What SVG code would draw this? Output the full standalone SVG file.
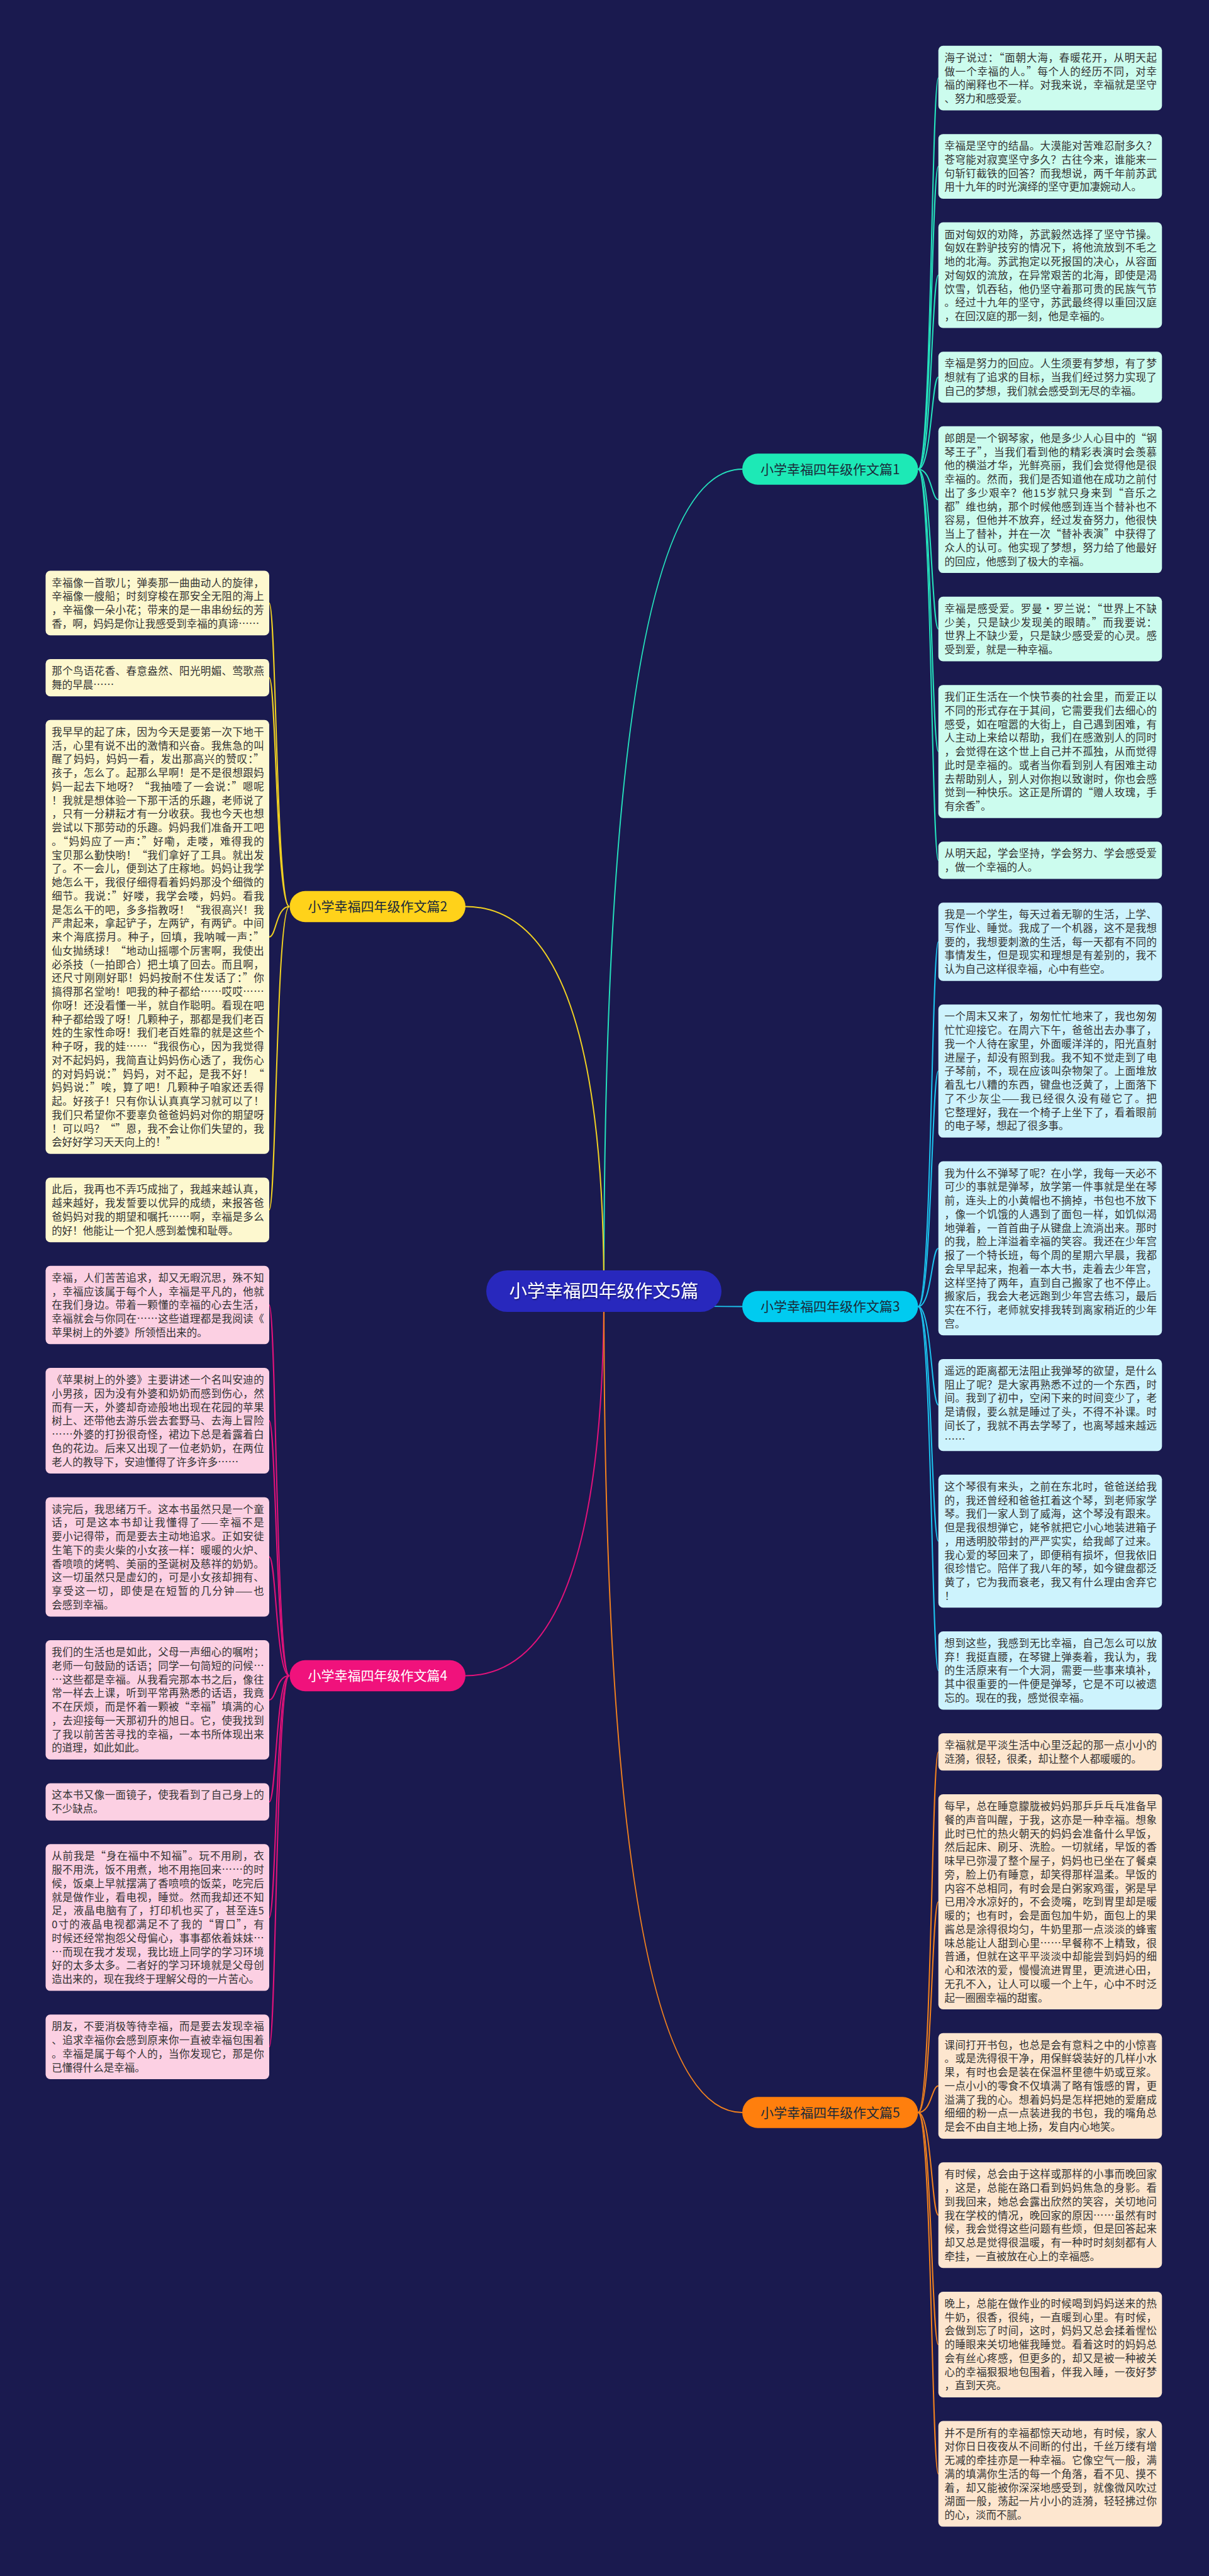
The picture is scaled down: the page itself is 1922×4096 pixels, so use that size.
<svg xmlns="http://www.w3.org/2000/svg" width="1922" height="4096" viewBox="0 0 1922 4096">
<defs>
<style>
.t{font-family:"Noto Sans CJK SC","Noto Sans",sans-serif;font-size:16.5px;fill:#333333}
.bt{font-family:"Noto Sans CJK SC","Noto Sans",sans-serif;font-size:21px;text-anchor:middle}
.m{fill:#ccfcee}.c{fill:#cdf3fd}.o{fill:#fde6cf}.y{fill:#fdf8cf}.p{fill:#fcd0e3}
.lk{fill:none;stroke-width:2}
</style>
<filter id="sh" x="-10%" y="-30%" width="120%" height="160%"><feDropShadow dx="1" dy="1.5" stdDeviation="0.8" flood-color="#000" flood-opacity="0.45"/></filter>
</defs>
<rect width="1922" height="4096" fill="#1a1a4f"/>
<g id="connectors">
<path class="lk" stroke="#25e2bd" stroke-width="2.25" d="M960 2053 Q960 746 1180 746"/>
<path class="lk" stroke="#f2d222" stroke-width="2.25" d="M960 2053 Q960 1441.5 740 1441.5"/>
<path class="lk" stroke="#1cc3ee" stroke-width="2.25" d="M960 2053 Q960 2077.5 1180 2077.5"/>
<path class="lk" stroke="#e3127a" stroke-width="2.25" d="M960 2053 Q960 2664.5 740 2664.5"/>
<path class="lk" stroke="#f2821e" stroke-width="2.25" d="M960 2053 Q960 3359 1180 3359"/>
<g stroke="#25e2bd">
<path class="lk" d="M1459.5 746 C1481 746 1481 124.1 1491.75 124.1"/>
<path class="lk" d="M1459.5 746 C1481 746 1481 264.5 1491.75 264.5"/>
<path class="lk" d="M1459.5 746 C1481 746 1481 437.6 1491.75 437.6"/>
<path class="lk" d="M1459.5 746 C1481 746 1481 599.7 1491.75 599.7"/>
<path class="lk" d="M1459.5 746 C1481 746 1481 794.5 1491.75 794.5"/>
<path class="lk" d="M1459.5 746 C1481 746 1481 1000.1 1491.75 1000.1"/>
<path class="lk" d="M1459.5 746 C1481 746 1481 1194.9 1491.75 1194.9"/>
<path class="lk" d="M1459.5 746 C1481 746 1481 1367.9 1491.75 1367.9"/>
</g>
<g stroke="#1cc3ee">
<path class="lk" d="M1459.5 2077.5 C1481 2077.5 1481 1497.5 1491.75 1497.5"/>
<path class="lk" d="M1459.5 2077.5 C1481 2077.5 1481 1703.1 1491.75 1703.1"/>
<path class="lk" d="M1459.5 2077.5 C1481 2077.5 1481 1984.9 1491.75 1984.9"/>
<path class="lk" d="M1459.5 2077.5 C1481 2077.5 1481 2234 1491.75 2234"/>
<path class="lk" d="M1459.5 2077.5 C1481 2077.5 1481 2450.6 1491.75 2450.6"/>
<path class="lk" d="M1459.5 2077.5 C1481 2077.5 1481 2656.2 1491.75 2656.2"/>
</g>
<g stroke="#f2821e">
<path class="lk" d="M1459.5 3359 C1481 3359 1481 2785.7 1491.75 2785.7"/>
<path class="lk" d="M1459.5 3359 C1481 3359 1481 3024 1491.75 3024"/>
<path class="lk" d="M1459.5 3359 C1481 3359 1481 3316.7 1491.75 3316.7"/>
<path class="lk" d="M1459.5 3359 C1481 3359 1481 3522.3 1491.75 3522.3"/>
<path class="lk" d="M1459.5 3359 C1481 3359 1481 3728 1491.75 3728"/>
<path class="lk" d="M1459.5 3359 C1481 3359 1481 3933.6 1491.75 3933.6"/>
</g>
<g stroke="#f2d222">
<path class="lk" d="M460 1441.5 C439 1441.5 439 958.9 428 958.9"/>
<path class="lk" d="M460 1441.5 C439 1441.5 439 1077.5 428 1077.5"/>
<path class="lk" d="M460 1441.5 C439 1441.5 439 1489.8 428 1489.8"/>
<path class="lk" d="M460 1441.5 C439 1441.5 439 1923.8 428 1923.8"/>
</g>
<g stroke="#e3127a">
<path class="lk" d="M460 2664.5 C439 2664.5 439 2075.1 428 2075.1"/>
<path class="lk" d="M460 2664.5 C439 2664.5 439 2259 428 2259"/>
<path class="lk" d="M460 2664.5 C439 2664.5 439 2475.5 428 2475.5"/>
<path class="lk" d="M460 2664.5 C439 2664.5 439 2702.9 428 2702.9"/>
<path class="lk" d="M460 2664.5 C439 2664.5 439 2865.1 428 2865.1"/>
<path class="lk" d="M460 2664.5 C439 2664.5 439 3049 428 3049"/>
<path class="lk" d="M460 2664.5 C439 2664.5 439 3254.6 428 3254.6"/>
</g>
</g>
<g id="center"><rect x="773" y="2020" width="374" height="66" rx="33" fill="#2828bd"/><text x="960" y="2063" text-anchor="middle" font-family="'Noto Sans CJK SC','Noto Sans',sans-serif" font-size="28.5" fill="#ffffff" filter="url(#sh)">小学幸福四年级作文5篇</text></g>
<g id="b1"><rect x="1180" y="721.25" width="279.5" height="49.5" rx="24.75" fill="#1de9b6"/><text class="bt" x="1319.75" y="753.5" fill="#1a2a3a">小学幸福四年级作文篇1</text></g>
<g id="b2"><rect x="460.5" y="1416.75" width="279.5" height="49.5" rx="24.75" fill="#ffd21a"/><text class="bt" x="600.25" y="1449" fill="#1a2a3a">小学幸福四年级作文篇2</text></g>
<g id="b3"><rect x="1180" y="2052.75" width="279.5" height="49.5" rx="24.75" fill="#00cbf0"/><text class="bt" x="1319.75" y="2085" fill="#1a2a3a">小学幸福四年级作文篇3</text></g>
<g id="b4"><rect x="460.5" y="2639.75" width="279.5" height="49.5" rx="24.75" fill="#f0127c"/><text class="bt" x="600.25" y="2672" fill="#ffffff">小学幸福四年级作文篇4</text></g>
<g id="b5"><rect x="1180" y="3334.25" width="279.5" height="49.5" rx="24.75" fill="#ff7f0d"/><text class="bt" x="1319.75" y="3366.5" fill="#1a2a3a">小学幸福四年级作文篇5</text></g>

<g id="r1" transform="translate(1491.75 72.75)"><rect class="m" width="355.5" height="102.75" rx="7.5"/>
<text class="t" x="9.75" y="25" textLength="337.5">海子说过：“面朝大海，春暖花开，从明天起</text>
<text class="t" x="9.75" y="46.75" textLength="337.5">做一个幸福的人。”每个人的经历不同，对幸</text>
<text class="t" x="9.75" y="68.5" textLength="337.5">福的阐释也不一样。对我来说，幸福就是坚守</text>
<text class="t" x="9.75" y="90.25">、努力和感受爱。</text></g>
<g id="r2" transform="translate(1491.75 213.15)"><rect class="m" width="355.5" height="102.75" rx="7.5"/>
<text class="t" x="9.75" y="25" textLength="337.5">幸福是坚守的结晶。大漠能对苦难忍耐多久？</text>
<text class="t" x="9.75" y="46.75" textLength="337.5">苍穹能对寂寞坚守多久？古往今来，谁能来一</text>
<text class="t" x="9.75" y="68.5" textLength="337.5">句斩钉截铁的回答？而我想说，两千年前苏武</text>
<text class="t" x="9.75" y="90.25">用十九年的时光演绎的坚守更加凄婉动人。</text></g>
<g id="r3" transform="translate(1491.75 353.55)"><rect class="m" width="355.5" height="168" rx="7.5"/>
<text class="t" x="9.75" y="25" textLength="337.5">面对匈奴的劝降，苏武毅然选择了坚守节操。</text>
<text class="t" x="9.75" y="46.75" textLength="337.5">匈奴在黔驴技穷的情况下，将他流放到不毛之</text>
<text class="t" x="9.75" y="68.5" textLength="337.5">地的北海。苏武抱定以死报国的决心，从容面</text>
<text class="t" x="9.75" y="90.25" textLength="337.5">对匈奴的流放，在异常艰苦的北海，即使是渴</text>
<text class="t" x="9.75" y="112" textLength="337.5">饮雪，饥吞毡，他仍坚守着那可贵的民族气节</text>
<text class="t" x="9.75" y="133.75" textLength="337.5">。经过十九年的坚守，苏武最终得以重回汉庭</text>
<text class="t" x="9.75" y="155.5">，在回汉庭的那一刻，他是幸福的。</text></g>
<g id="r4" transform="translate(1491.75 559.2)"><rect class="m" width="355.5" height="81" rx="7.5"/>
<text class="t" x="9.75" y="25" textLength="337.5">幸福是努力的回应。人生须要有梦想，有了梦</text>
<text class="t" x="9.75" y="46.75" textLength="337.5">想就有了追求的目标，当我们经过努力实现了</text>
<text class="t" x="9.75" y="68.5">自己的梦想，我们就会感受到无尽的幸福。</text></g>
<g id="r5" transform="translate(1491.75 677.85)"><rect class="m" width="355.5" height="233.25" rx="7.5"/>
<text class="t" x="9.75" y="25" textLength="337.5">郎朗是一个钢琴家，他是多少人心目中的“钢</text>
<text class="t" x="9.75" y="46.75" textLength="337.5">琴王子”，当我们看到他的精彩表演时会羡慕</text>
<text class="t" x="9.75" y="68.5" textLength="337.5">他的横溢才华，光鲜亮丽，我们会觉得他是很</text>
<text class="t" x="9.75" y="90.25" textLength="337.5">幸福的。然而，我们是否知道他在成功之前付</text>
<text class="t" x="9.75" y="112" textLength="337.5">出了多少艰辛？他15岁就只身来到“音乐之</text>
<text class="t" x="9.75" y="133.75" textLength="337.5">都”维也纳，那个时候他感到连当个替补也不</text>
<text class="t" x="9.75" y="155.5" textLength="337.5">容易，但他并不放弃，经过发奋努力，他很快</text>
<text class="t" x="9.75" y="177.25" textLength="337.5">当上了替补，并在一次“替补表演”中获得了</text>
<text class="t" x="9.75" y="199" textLength="337.5">众人的认可。他实现了梦想，努力给了他最好</text>
<text class="t" x="9.75" y="220.75">的回应，他感到了极大的幸福。</text></g>
<g id="r6" transform="translate(1491.75 948.75)"><rect class="m" width="355.5" height="102.75" rx="7.5"/>
<text class="t" x="9.75" y="25" textLength="337.5">幸福是感受爱。罗曼·罗兰说：“世界上不缺</text>
<text class="t" x="9.75" y="46.75" textLength="337.5">少美，只是缺少发现美的眼睛。”而我要说：</text>
<text class="t" x="9.75" y="68.5" textLength="337.5">世界上不缺少爱，只是缺少感受爱的心灵。感</text>
<text class="t" x="9.75" y="90.25">受到爱，就是一种幸福。</text></g>
<g id="r7" transform="translate(1491.75 1089.15)"><rect class="m" width="355.5" height="211.5" rx="7.5"/>
<text class="t" x="9.75" y="25" textLength="337.5">我们正生活在一个快节奏的社会里，而爱正以</text>
<text class="t" x="9.75" y="46.75" textLength="337.5">不同的形式存在于其间，它需要我们去细心的</text>
<text class="t" x="9.75" y="68.5" textLength="337.5">感受，如在喧嚣的大街上，自己遇到困难，有</text>
<text class="t" x="9.75" y="90.25" textLength="337.5">人主动上来给以帮助，我们在感激别人的同时</text>
<text class="t" x="9.75" y="112" textLength="337.5">，会觉得在这个世上自己并不孤独，从而觉得</text>
<text class="t" x="9.75" y="133.75" textLength="337.5">此时是幸福的。或者当你看到别人有困难主动</text>
<text class="t" x="9.75" y="155.5" textLength="337.5">去帮助别人，别人对你抱以致谢时，你也会感</text>
<text class="t" x="9.75" y="177.25" textLength="337.5">觉到一种快乐。这正是所谓的“赠人玫瑰，手</text>
<text class="t" x="9.75" y="199">有余香”。</text></g>
<g id="r8" transform="translate(1491.75 1338.3)"><rect class="m" width="355.5" height="59.25" rx="7.5"/>
<text class="t" x="9.75" y="25" textLength="337.5">从明天起，学会坚持，学会努力、学会感受爱</text>
<text class="t" x="9.75" y="46.75">，做一个幸福的人。</text></g>

<g id="r9" transform="translate(1491.75 1435.2)"><rect class="c" width="355.5" height="124.5" rx="7.5"/>
<text class="t" x="9.75" y="25" textLength="337.5">我是一个学生，每天过着无聊的生活，上学、</text>
<text class="t" x="9.75" y="46.75" textLength="337.5">写作业、睡觉。我成了一个机器，这不是我想</text>
<text class="t" x="9.75" y="68.5" textLength="337.5">要的，我想要刺激的生活，每一天都有不同的</text>
<text class="t" x="9.75" y="90.25" textLength="337.5">事情发生，但是现实和理想是有差别的，我不</text>
<text class="t" x="9.75" y="112">认为自己这样很幸福，心中有些空。</text></g>
<g id="r10" transform="translate(1491.75 1597.35)"><rect class="c" width="355.5" height="211.5" rx="7.5"/>
<text class="t" x="9.75" y="25" textLength="337.5">一个周末又来了，匆匆忙忙地来了，我也匆匆</text>
<text class="t" x="9.75" y="46.75" textLength="337.5">忙忙迎接它。在周六下午，爸爸出去办事了，</text>
<text class="t" x="9.75" y="68.5" textLength="337.5">我一个人待在家里，外面暖洋洋的，阳光直射</text>
<text class="t" x="9.75" y="90.25" textLength="337.5">进屋子，却没有照到我。我不知不觉走到了电</text>
<text class="t" x="9.75" y="112" textLength="337.5">子琴前，不，现在应该叫杂物架了。上面堆放</text>
<text class="t" x="9.75" y="133.75" textLength="337.5">着乱七八糟的东西，键盘也泛黄了，上面落下</text>
<text class="t" x="9.75" y="155.5" textLength="337.5">了不少灰尘——我已经很久没有碰它了。把</text>
<text class="t" x="9.75" y="177.25" textLength="337.5">它整理好，我在一个椅子上坐下了，看着眼前</text>
<text class="t" x="9.75" y="199">的电子琴，想起了很多事。</text></g>
<g id="r11" transform="translate(1491.75 1846.5)"><rect class="c" width="355.5" height="276.75" rx="7.5"/>
<text class="t" x="9.75" y="25" textLength="337.5">我为什么不弹琴了呢？在小学，我每一天必不</text>
<text class="t" x="9.75" y="46.75" textLength="337.5">可少的事就是弹琴，放学第一件事就是坐在琴</text>
<text class="t" x="9.75" y="68.5" textLength="337.5">前，连头上的小黄帽也不摘掉，书包也不放下</text>
<text class="t" x="9.75" y="90.25" textLength="337.5">，像一个饥饿的人遇到了面包一样，如饥似渴</text>
<text class="t" x="9.75" y="112" textLength="337.5">地弹着，一首首曲子从键盘上流淌出来。那时</text>
<text class="t" x="9.75" y="133.75" textLength="337.5">的我，脸上洋溢着幸福的笑容。我还在少年宫</text>
<text class="t" x="9.75" y="155.5" textLength="337.5">报了一个特长班，每个周的星期六早晨，我都</text>
<text class="t" x="9.75" y="177.25" textLength="337.5">会早早起来，抱着一本大书，走着去少年宫，</text>
<text class="t" x="9.75" y="199" textLength="337.5">这样坚持了两年，直到自己搬家了也不停止。</text>
<text class="t" x="9.75" y="220.75" textLength="337.5">搬家后，我会大老远跑到少年宫去练习，最后</text>
<text class="t" x="9.75" y="242.5" textLength="337.5">实在不行，老师就安排我转到离家稍近的少年</text>
<text class="t" x="9.75" y="264.25">宫。</text></g>
<g id="r12" transform="translate(1491.75 2160.9)"><rect class="c" width="355.5" height="146.25" rx="7.5"/>
<text class="t" x="9.75" y="25" textLength="337.5">遥远的距离都无法阻止我弹琴的欲望，是什么</text>
<text class="t" x="9.75" y="46.75" textLength="337.5">阻止了呢？是大家再熟悉不过的一个东西，时</text>
<text class="t" x="9.75" y="68.5" textLength="337.5">间。我到了初中，空闲下来的时间变少了，老</text>
<text class="t" x="9.75" y="90.25" textLength="337.5">是请假，要么就是睡过了头，不得不补课。时</text>
<text class="t" x="9.75" y="112" textLength="337.5">间长了，我就不再去学琴了，也离琴越来越远</text>
<text class="t" x="9.75" y="133.75">……</text></g>
<g id="r13" transform="translate(1491.75 2344.8)"><rect class="c" width="355.5" height="211.5" rx="7.5"/>
<text class="t" x="9.75" y="25" textLength="337.5">这个琴很有来头，之前在东北时，爸爸送给我</text>
<text class="t" x="9.75" y="46.75" textLength="337.5">的，我还曾经和爸爸扛着这个琴，到老师家学</text>
<text class="t" x="9.75" y="68.5" textLength="337.5">琴。我们一家人到了威海，这个琴没有跟来。</text>
<text class="t" x="9.75" y="90.25" textLength="337.5">但是我很想弹它，姥爷就把它小心地装进箱子</text>
<text class="t" x="9.75" y="112" textLength="337.5">，用透明胶带封的严严实实，给我邮了过来。</text>
<text class="t" x="9.75" y="133.75" textLength="337.5">我心爱的琴回来了，即便稍有损坏，但我依旧</text>
<text class="t" x="9.75" y="155.5" textLength="337.5">很珍惜它。陪伴了我八年的琴，如今键盘都泛</text>
<text class="t" x="9.75" y="177.25" textLength="337.5">黄了，它为我而衰老，我又有什么理由舍弃它</text>
<text class="t" x="9.75" y="199">！</text></g>
<g id="r14" transform="translate(1491.75 2593.95)"><rect class="c" width="355.5" height="124.5" rx="7.5"/>
<text class="t" x="9.75" y="25" textLength="337.5">想到这些，我感到无比幸福，自己怎么可以放</text>
<text class="t" x="9.75" y="46.75" textLength="337.5">弃！我挺直腰，在琴键上弹奏着，我认为，我</text>
<text class="t" x="9.75" y="68.5" textLength="337.5">的生活原来有一个大洞，需要一些事来填补，</text>
<text class="t" x="9.75" y="90.25" textLength="337.5">其中很重要的一件便是弹琴，它是不可以被遗</text>
<text class="t" x="9.75" y="112">忘的。现在的我，感觉很幸福。</text></g>

<g id="r15" transform="translate(1491.75 2756.1)"><rect class="o" width="355.5" height="59.25" rx="7.5"/>
<text class="t" x="9.75" y="25" textLength="337.5">幸福就是平淡生活中心里泛起的那一点小小的</text>
<text class="t" x="9.75" y="46.75">涟漪，很轻，很柔，却让整个人都暖暖的。</text></g>
<g id="r16" transform="translate(1491.75 2853)"><rect class="o" width="355.5" height="342" rx="7.5"/>
<text class="t" x="9.75" y="25" textLength="337.5">每早，总在睡意朦胧被妈妈那乒乒乓乓准备早</text>
<text class="t" x="9.75" y="46.75" textLength="337.5">餐的声音叫醒，于我，这亦是一种幸福。想象</text>
<text class="t" x="9.75" y="68.5" textLength="337.5">此时已忙的热火朝天的妈妈会准备什么早饭，</text>
<text class="t" x="9.75" y="90.25" textLength="337.5">然后起床、刷牙、洗脸。一切就绪，早饭的香</text>
<text class="t" x="9.75" y="112" textLength="337.5">味早已弥漫了整个屋子，妈妈也已坐在了餐桌</text>
<text class="t" x="9.75" y="133.75" textLength="337.5">旁，脸上仍有睡意，却笑得那样温柔。早饭的</text>
<text class="t" x="9.75" y="155.5" textLength="337.5">内容不总相同，有时会是白粥家鸡蛋，粥是早</text>
<text class="t" x="9.75" y="177.25" textLength="337.5">已用冷水凉好的，不会烫嘴，吃到胃里却是暖</text>
<text class="t" x="9.75" y="199" textLength="337.5">暖的；也有时，会是面包加牛奶，面包上的果</text>
<text class="t" x="9.75" y="220.75" textLength="337.5">酱总是涂得很均匀，牛奶里那一点淡淡的蜂蜜</text>
<text class="t" x="9.75" y="242.5" textLength="337.5">味总能让人甜到心里……早餐称不上精致，很</text>
<text class="t" x="9.75" y="264.25" textLength="337.5">普通，但就在这平平淡淡中却能尝到妈妈的细</text>
<text class="t" x="9.75" y="286" textLength="337.5">心和浓浓的爱，慢慢流进胃里，更流进心田，</text>
<text class="t" x="9.75" y="307.75" textLength="337.5">无孔不入，让人可以暖一个上午，心中不时泛</text>
<text class="t" x="9.75" y="329.5">起一圈圈幸福的甜蜜。</text></g>
<g id="r17" transform="translate(1491.75 3232.65)"><rect class="o" width="355.5" height="168" rx="7.5"/>
<text class="t" x="9.75" y="25" textLength="337.5">课间打开书包，也总是会有意料之中的小惊喜</text>
<text class="t" x="9.75" y="46.75" textLength="337.5">。或是洗得很干净，用保鲜袋装好的几样小水</text>
<text class="t" x="9.75" y="68.5" textLength="337.5">果，有时也会是装在保温杯里德牛奶或豆浆。</text>
<text class="t" x="9.75" y="90.25" textLength="337.5">一点小小的零食不仅填满了略有饿感的胃，更</text>
<text class="t" x="9.75" y="112" textLength="337.5">溢满了我的心。想着妈妈是怎样把她的爱磨成</text>
<text class="t" x="9.75" y="133.75" textLength="337.5">细细的粉一点一点装进我的书包，我的嘴角总</text>
<text class="t" x="9.75" y="155.5">是会不由自主地上扬，发自内心地笑。</text></g>
<g id="r18" transform="translate(1491.75 3438.3)"><rect class="o" width="355.5" height="168" rx="7.5"/>
<text class="t" x="9.75" y="25" textLength="337.5">有时候，总会由于这样或那样的小事而晚回家</text>
<text class="t" x="9.75" y="46.75" textLength="337.5">，这是，总能在路口看到妈妈焦急的身影。看</text>
<text class="t" x="9.75" y="68.5" textLength="337.5">到我回来，她总会露出欣然的笑容，关切地问</text>
<text class="t" x="9.75" y="90.25" textLength="337.5">我在学校的情况，晚回家的原因……虽然有时</text>
<text class="t" x="9.75" y="112" textLength="337.5">候，我会觉得这些问题有些烦，但是回答起来</text>
<text class="t" x="9.75" y="133.75" textLength="337.5">却又总是觉得很温暖，有一种时时刻刻都有人</text>
<text class="t" x="9.75" y="155.5">牵挂，一直被放在心上的幸福感。</text></g>
<g id="r19" transform="translate(1491.75 3643.95)"><rect class="o" width="355.5" height="168" rx="7.5"/>
<text class="t" x="9.75" y="25" textLength="337.5">晚上，总能在做作业的时候喝到妈妈送来的热</text>
<text class="t" x="9.75" y="46.75" textLength="337.5">牛奶，很香，很纯，一直暖到心里。有时候，</text>
<text class="t" x="9.75" y="68.5" textLength="337.5">会做到忘了时间，这时，妈妈又总会揉着惺忪</text>
<text class="t" x="9.75" y="90.25" textLength="337.5">的睡眼来关切地催我睡觉。看着这时的妈妈总</text>
<text class="t" x="9.75" y="112" textLength="337.5">会有丝心疼感，但更多的，却又是被一种被关</text>
<text class="t" x="9.75" y="133.75" textLength="337.5">心的幸福狠狠地包围着，伴我入睡，一夜好梦</text>
<text class="t" x="9.75" y="155.5">，直到天亮。</text></g>
<g id="r20" transform="translate(1491.75 3849.6)"><rect class="o" width="355.5" height="168" rx="7.5"/>
<text class="t" x="9.75" y="25" textLength="337.5">并不是所有的幸福都惊天动地，有时候，家人</text>
<text class="t" x="9.75" y="46.75" textLength="337.5">对你日日夜夜从不间断的付出，千丝万缕有增</text>
<text class="t" x="9.75" y="68.5" textLength="337.5">无减的牵挂亦是一种幸福。它像空气一般，满</text>
<text class="t" x="9.75" y="90.25" textLength="337.5">满的填满你生活的每一个角落，看不见、摸不</text>
<text class="t" x="9.75" y="112" textLength="337.5">着，却又能被你深深地感受到，就像微风吹过</text>
<text class="t" x="9.75" y="133.75" textLength="337.5">湖面一般，荡起一片小小的涟漪，轻轻拂过你</text>
<text class="t" x="9.75" y="155.5">的心，淡而不腻。</text></g>

<g id="l1" transform="translate(72.5 907.5)"><rect class="y" width="355.5" height="102.75" rx="7.5"/>
<text class="t" x="9.75" y="25" textLength="337.5">幸福像一首歌儿；弹奏那一曲曲动人的旋律，</text>
<text class="t" x="9.75" y="46.75" textLength="337.5">辛福像一艘船；时刻穿梭在那安全无阻的海上</text>
<text class="t" x="9.75" y="68.5" textLength="337.5">，辛福像一朵小花；带来的是一串串纷纭的芳</text>
<text class="t" x="9.75" y="90.25">香，啊，妈妈是你让我感受到幸福的真谛……</text></g>
<g id="l2" transform="translate(72.5 1047.9)"><rect class="y" width="355.5" height="59.25" rx="7.5"/>
<text class="t" x="9.75" y="25" textLength="337.5">那个鸟语花香、春意盎然、阳光明媚、莺歌燕</text>
<text class="t" x="9.75" y="46.75">舞的早晨……</text></g>
<g id="l3" transform="translate(72.5 1144.8)"><rect class="y" width="355.5" height="690" rx="7.5"/>
<text class="t" x="9.75" y="25" textLength="337.5">我早早的起了床，因为今天是要第一次下地干</text>
<text class="t" x="9.75" y="46.75" textLength="337.5">活，心里有说不出的激情和兴奋。我焦急的叫</text>
<text class="t" x="9.75" y="68.5" textLength="337.5">醒了妈妈，妈妈一看，发出那高兴的赞叹：”</text>
<text class="t" x="9.75" y="90.25" textLength="337.5">孩子，怎么了。起那么早啊！是不是很想跟妈</text>
<text class="t" x="9.75" y="112" textLength="337.5">妈一起去下地呀？“我抽噎了一会说：”嗯呢</text>
<text class="t" x="9.75" y="133.75" textLength="337.5">！我就是想体验一下那干活的乐趣，老师说了</text>
<text class="t" x="9.75" y="155.5" textLength="337.5">，只有一分耕耘才有一分收获。我也今天也想</text>
<text class="t" x="9.75" y="177.25" textLength="337.5">尝试以下那劳动的乐趣。妈妈我们准备开工吧</text>
<text class="t" x="9.75" y="199" textLength="337.5">。“妈妈应了一声：”好嘞，走喽，难得我的</text>
<text class="t" x="9.75" y="220.75" textLength="337.5">宝贝那么勤快哟！“我们拿好了工具。就出发</text>
<text class="t" x="9.75" y="242.5" textLength="337.5">了。不一会儿，便到达了庄稼地。妈妈让我学</text>
<text class="t" x="9.75" y="264.25" textLength="337.5">她怎么干，我很仔细得看着妈妈那没个细微的</text>
<text class="t" x="9.75" y="286" textLength="337.5">细节。我说：”好喽，我学会喽，妈妈。看我</text>
<text class="t" x="9.75" y="307.75" textLength="337.5">是怎么干的吧，多多指教呀！“我很高兴！我</text>
<text class="t" x="9.75" y="329.5" textLength="337.5">严肃起来，拿起铲子，左两铲，有两铲。中间</text>
<text class="t" x="9.75" y="351.25" textLength="337.5">来个海底捞月。种子，回填，我呐喊一声：”</text>
<text class="t" x="9.75" y="373" textLength="337.5">仙女抛绣球！“地动山摇哪个厉害啊，我使出</text>
<text class="t" x="9.75" y="394.75" textLength="337.5">必杀技（一拍即合）把土填了回去。而且啊，</text>
<text class="t" x="9.75" y="416.5" textLength="337.5">还尺寸刚刚好耶！妈妈按耐不住发话了：”你</text>
<text class="t" x="9.75" y="438.25" textLength="337.5">搞得那名堂哟！吧我的种子都给……哎哎……</text>
<text class="t" x="9.75" y="460" textLength="337.5">你呀！还没看懂一半，就自作聪明。看现在吧</text>
<text class="t" x="9.75" y="481.75" textLength="337.5">种子都给毁了呀！几颗种子，那都是我们老百</text>
<text class="t" x="9.75" y="503.5" textLength="337.5">姓的生家性命呀！我们老百姓靠的就是这些个</text>
<text class="t" x="9.75" y="525.25" textLength="337.5">种子呀，我的娃……“我很伤心，因为我觉得</text>
<text class="t" x="9.75" y="547" textLength="337.5">对不起妈妈，我简直让妈妈伤心透了，我伤心</text>
<text class="t" x="9.75" y="568.75" textLength="337.5">的对妈妈说：”妈妈，对不起，是我不好！“</text>
<text class="t" x="9.75" y="590.5" textLength="337.5">妈妈说：”唉，算了吧！几颗种子咱家还丢得</text>
<text class="t" x="9.75" y="612.25" textLength="337.5">起。好孩子！只有你认认真真学习就可以了！</text>
<text class="t" x="9.75" y="634" textLength="337.5">我们只希望你不要辜负爸爸妈妈对你的期望呀</text>
<text class="t" x="9.75" y="655.75" textLength="337.5">！可以吗？“”恩，我不会让你们失望的，我</text>
<text class="t" x="9.75" y="677.5">会好好学习天天向上的！”</text></g>
<g id="l4" transform="translate(72.5 1872.45)"><rect class="y" width="355.5" height="102.75" rx="7.5"/>
<text class="t" x="9.75" y="25" textLength="337.5">此后，我再也不弄巧成拙了，我越来越认真，</text>
<text class="t" x="9.75" y="46.75" textLength="337.5">越来越好，我发誓要以优异的成绩，来报答爸</text>
<text class="t" x="9.75" y="68.5" textLength="337.5">爸妈妈对我的期望和嘱托……啊，幸福是多么</text>
<text class="t" x="9.75" y="90.25">的好！他能让一个犯人感到羞愧和耻辱。</text></g>

<g id="l5" transform="translate(72.5 2012.85)"><rect class="p" width="355.5" height="124.5" rx="7.5"/>
<text class="t" x="9.75" y="25" textLength="337.5">幸福，人们苦苦追求，却又无暇沉思，殊不知</text>
<text class="t" x="9.75" y="46.75" textLength="337.5">，幸福应该属于每个人，幸福是平凡的，他就</text>
<text class="t" x="9.75" y="68.5" textLength="337.5">在我们身边。带着一颗懂的幸福的心去生活，</text>
<text class="t" x="9.75" y="90.25" textLength="337.5">幸福就会与你同在……这些道理都是我阅读《</text>
<text class="t" x="9.75" y="112">苹果树上的外婆》所领悟出来的。</text></g>
<g id="l6" transform="translate(72.5 2175)"><rect class="p" width="355.5" height="168" rx="7.5"/>
<text class="t" x="9.75" y="25" textLength="337.5">《苹果树上的外婆》主要讲述一个名叫安迪的</text>
<text class="t" x="9.75" y="46.75" textLength="337.5">小男孩，因为没有外婆和奶奶而感到伤心，然</text>
<text class="t" x="9.75" y="68.5" textLength="337.5">而有一天，外婆却奇迹般地出现在花园的苹果</text>
<text class="t" x="9.75" y="90.25" textLength="337.5">树上、还带他去游乐尝去套野马、去海上冒险</text>
<text class="t" x="9.75" y="112" textLength="337.5">……外婆的打扮很奇怪，裙边下总是着露着白</text>
<text class="t" x="9.75" y="133.75" textLength="337.5">色的花边。后来又出现了一位老奶奶，在两位</text>
<text class="t" x="9.75" y="155.5">老人的教导下，安迪懂得了许多许多……</text></g>
<g id="l7" transform="translate(72.5 2380.65)"><rect class="p" width="355.5" height="189.75" rx="7.5"/>
<text class="t" x="9.75" y="25" textLength="337.5">读完后，我思绪万千。这本书虽然只是一个童</text>
<text class="t" x="9.75" y="46.75" textLength="337.5">话，可是这本书却让我懂得了——幸福不是</text>
<text class="t" x="9.75" y="68.5" textLength="337.5">要小记得带，而是要去主动地追求。正如安徒</text>
<text class="t" x="9.75" y="90.25" textLength="337.5">生笔下的卖火柴的小女孩一样：暖暖的火炉、</text>
<text class="t" x="9.75" y="112" textLength="337.5">香喷喷的烤鸭、美丽的圣诞树及慈祥的奶奶。</text>
<text class="t" x="9.75" y="133.75" textLength="337.5">这一切虽然只是虚幻的，可是小女孩却拥有、</text>
<text class="t" x="9.75" y="155.5" textLength="337.5">享受这一切，即使是在短暂的几分钟——也</text>
<text class="t" x="9.75" y="177.25">会感到幸福。</text></g>
<g id="l8" transform="translate(72.5 2608.05)"><rect class="p" width="355.5" height="189.75" rx="7.5"/>
<text class="t" x="9.75" y="25" textLength="337.5">我们的生活也是如此，父母一声细心的嘱咐；</text>
<text class="t" x="9.75" y="46.75" textLength="337.5">老师一句鼓励的话语；同学一句简短的问候…</text>
<text class="t" x="9.75" y="68.5" textLength="337.5">…这些都是幸福。从我看完那本书之后，像往</text>
<text class="t" x="9.75" y="90.25" textLength="337.5">常一样去上课，听到平常再熟悉的话语，我竟</text>
<text class="t" x="9.75" y="112" textLength="337.5">不在厌烦，而是怀着一颗被“幸福”填满的心</text>
<text class="t" x="9.75" y="133.75" textLength="337.5">，去迎接每一天那初升的旭日。它，使我找到</text>
<text class="t" x="9.75" y="155.5" textLength="337.5">了我以前苦苦寻找的幸福，一本书所体现出来</text>
<text class="t" x="9.75" y="177.25">的道理，如此如此。</text></g>
<g id="l9" transform="translate(72.5 2835.45)"><rect class="p" width="355.5" height="59.25" rx="7.5"/>
<text class="t" x="9.75" y="25" textLength="337.5">这本书又像一面镜子，使我看到了自己身上的</text>
<text class="t" x="9.75" y="46.75">不少缺点。</text></g>
<g id="l10" transform="translate(72.5 2932.35)"><rect class="p" width="355.5" height="233.25" rx="7.5"/>
<text class="t" x="9.75" y="25" textLength="337.5">从前我是“身在福中不知福”。玩不用刷，衣</text>
<text class="t" x="9.75" y="46.75" textLength="337.5">服不用洗，饭不用煮，地不用拖回来……的时</text>
<text class="t" x="9.75" y="68.5" textLength="337.5">候，饭桌上早就摆满了香喷喷的饭菜，吃完后</text>
<text class="t" x="9.75" y="90.25" textLength="337.5">就是做作业，看电视，睡觉。然而我却还不知</text>
<text class="t" x="9.75" y="112" textLength="337.5">足，液晶电脑有了，打印机也买了，甚至连5</text>
<text class="t" x="9.75" y="133.75" textLength="337.5">0寸的液晶电视都满足不了我的“胃口”，有</text>
<text class="t" x="9.75" y="155.5" textLength="337.5">时候还经常抱怨父母偏心，事事都依着妹妹…</text>
<text class="t" x="9.75" y="177.25" textLength="337.5">…而现在我才发现，我比班上同学的学习环境</text>
<text class="t" x="9.75" y="199" textLength="337.5">好的太多太多。二者好的学习环境就是父母创</text>
<text class="t" x="9.75" y="220.75">造出来的，现在我终于理解父母的一片苦心。</text></g>
<g id="l11" transform="translate(72.5 3203.25)"><rect class="p" width="355.5" height="102.75" rx="7.5"/>
<text class="t" x="9.75" y="25" textLength="337.5">朋友，不要消极等待幸福，而是要去发现幸福</text>
<text class="t" x="9.75" y="46.75" textLength="337.5">、追求幸福你会感到原来你一直被幸福包围着</text>
<text class="t" x="9.75" y="68.5" textLength="337.5">。幸福是属于每个人的，当你发现它，那是你</text>
<text class="t" x="9.75" y="90.25">已懂得什么是幸福。</text></g>
</svg>
